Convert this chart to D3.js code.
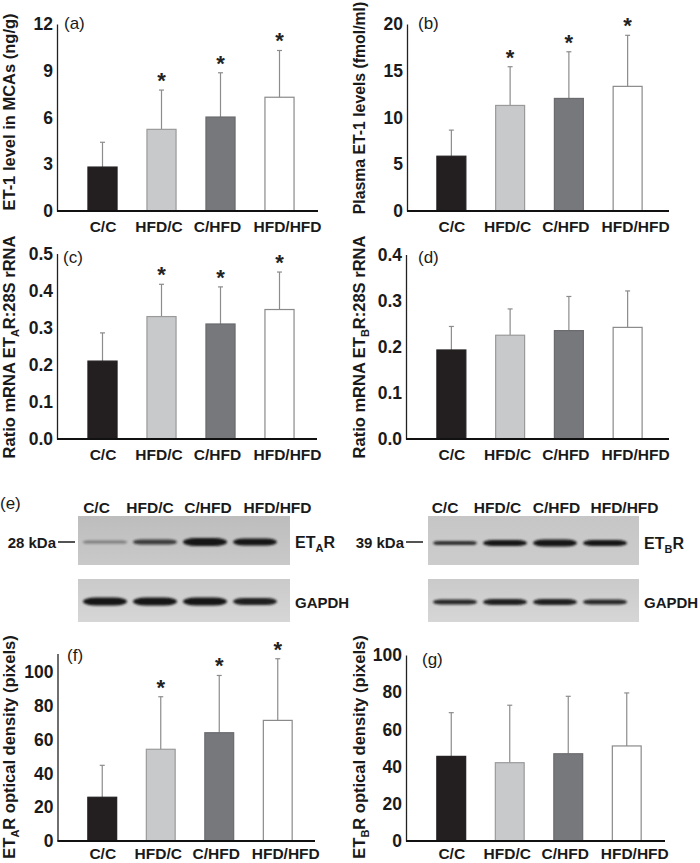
<!DOCTYPE html>
<html><head><meta charset="utf-8">
<script src="https://cdn.jsdelivr.net/npm/d3@7"></script>
<style>
body{margin:0;background:#fff}
svg{display:block}
text{font-family:"Liberation Sans",Arial,Helvetica,sans-serif}
</style>
</head><body>
<svg id="chart" width="700" height="863"></svg>
<script>
// ---------------- DATA ----------------
const categories = ["C/C", "HFD/C", "C/HFD", "HFD/HFD"];

// (a) ET-1 level in MCAs (ng/g)
const et1McaMean = [2.82, 5.24, 6.03, 7.30];
const et1McaSd   = [1.59, 2.52, 2.84, 3.00];
const et1McaSig  = [false, true, true, true];
const ticksA = [0, 3, 6, 9, 12];

// (b) Plasma ET-1 levels (fmol/ml)
const plasmaMean = [5.86, 11.29, 12.04, 13.33];
const plasmaSd   = [2.79, 4.14, 4.99, 5.46];
const plasmaSig  = [false, true, true, true];
const ticksB = [0, 5, 10, 15, 20];

// (c) Ratio mRNA ETAR:28S rRNA
const etarMrnaMean = [0.210, 0.330, 0.310, 0.349];
const etarMrnaSd   = [0.076, 0.087, 0.100, 0.101];
const etarMrnaSig  = [false, true, true, true];
const ticksC = [0, 0.1, 0.2, 0.3, 0.4, 0.5];

// (d) Ratio mRNA ETBR:28S rRNA
const etbrMrnaMean = [0.193, 0.225, 0.235, 0.242];
const etbrMrnaSd   = [0.051, 0.057, 0.074, 0.079];
const etbrMrnaSig  = [false, false, false, false];
const ticksD = [0, 0.1, 0.2, 0.3, 0.4];

// (f) ETAR optical density (pixels)
const etarOdMean = [25.9, 54.3, 64.1, 71.4];
const etarOdSd   = [18.9, 31.1, 33.9, 36.5];
const etarOdSig  = [false, true, true, true];
const ticksF = [0, 20, 40, 60, 80, 100];

// (g) ETBR optical density (pixels)
const etbrOdMean = [45.5, 42.1, 46.9, 51.1];
const etbrOdSd   = [23.5, 30.9, 30.9, 28.5];
const etbrOdSig  = [false, false, false, false];
const ticksG = [0, 20, 40, 60, 80, 100];

// (e) western blot band intensities (relative darkness) and thickness
const etarBandDark   = [0.40, 0.78, 1.00, 1.00];
const etarBandThick  = [3, 5, 8, 7];
const gapdhABandDark = [1.00, 1.00, 1.00, 0.95];
const gapdhABandThick= [8, 8, 8, 7];
const etbrBandDark   = [0.85, 1.00, 1.00, 1.00];
const etbrBandThick  = [4, 6, 7, 6];
const gapdhBBandDark = [0.90, 0.95, 0.95, 0.90];
const gapdhBBandThick= [5, 6, 6, 5];

// ---------------- STYLE ----------------
const barFill   = ["#231f20", "#c8c9cb", "#77787b", "#ffffff"];
const barStroke = ["#231f20", "#9a9a9a", "#6a6b6e", "#8a8a8a"];
const labelShift = [0.5, -2.5, -3, 8];
const FONT = '"Liberation Sans",Arial,Helvetica,sans-serif';

const svg = d3.select("#chart");

const defs = svg.append("defs");
defs.append("filter").attr("id", "blur").attr("x", "-20%").attr("y", "-100%").attr("width", "140%").attr("height", "300%")
  .append("feGaussianBlur").attr("stdDeviation", 1.1);
function grad(id, c0, c1) {
  const g = defs.append("linearGradient").attr("id", id).attr("x1", 0).attr("y1", 0).attr("x2", 0).attr("y2", 1);
  g.append("stop").attr("offset", "0%").attr("stop-color", c0);
  g.append("stop").attr("offset", "100%").attr("stop-color", c1);
}
grad("gEtar", "#bdbdbd", "#c9c9c9");
grad("gGap", "#cacaca", "#d6d6d6");
grad("gEtbr", "#c6c6c6", "#cccccc");

// ---------------- PANELS ----------------
const panels = [
  { letter: "(a)", mean: et1McaMean, sd: et1McaSd, sig: et1McaSig, ticks: ticksA, fmt: d3.format("d"),
    yMax: 12, ax: 57, axEnd: 318, yBot: 211, yTop: 24, band: [73, 309], titleX: 15, titleY: 112, titleSize: 16.5, labDy: 21,
    title: [{ t: "ET-1 level in MCAs (ng/g)" }], letterPos: [64, 29] },
  { letter: "(b)", mean: plasmaMean, sd: plasmaSd, sig: plasmaSig, ticks: ticksB, fmt: d3.format("d"),
    yMax: 20, ax: 407, axEnd: 669, yBot: 211, yTop: 24, band: [422, 657], titleX: 365, titleY: 108, titleSize: 15.8, labDy: 21,
    title: [{ t: "Plasma ET-1 levels (fmol/ml)" }], letterPos: [418, 29] },
  { letter: "(c)", mean: etarMrnaMean, sd: etarMrnaSd, sig: etarMrnaSig, ticks: ticksC, fmt: d3.format(".1f"),
    yMax: 0.5, ax: 57, axEnd: 317, yBot: 439, yTop: 253.5, band: [73, 309], titleX: 15, titleY: 347, titleSize: 16.5, labDy: 21,
    title: [{ t: "Ratio mRNA ET" }, { t: "A", sub: true }, { t: "R:28S rRNA" }], letterPos: [63, 263] },
  { letter: "(d)", mean: etbrMrnaMean, sd: etbrMrnaSd, sig: etbrMrnaSig, ticks: ticksD, fmt: d3.format(".1f"),
    yMax: 0.4, ax: 406, axEnd: 669, yBot: 439, yTop: 254.5, band: [422, 657], titleX: 365, titleY: 347, titleSize: 16.5, labDy: 21,
    title: [{ t: "Ratio mRNA ET" }, { t: "B", sub: true }, { t: "R:28S rRNA" }], letterPos: [418, 263] },
  { letter: "(f)", mean: etarOdMean, sd: etarOdSd, sig: etarOdSig, ticks: ticksF, fmt: d3.format("d"),
    yMax: 111, ax: 57.5, axEnd: 315, yBot: 841, yTop: 653.5, band: [73, 307], titleX: 15, titleY: 747, titleSize: 16.5, labDy: 17.5,
    title: [{ t: "ET" }, { t: "A", sub: true }, { t: "R optical density (pixels)" }], letterPos: [67, 661] },
  { letter: "(g)", mean: etbrOdMean, sd: etbrOdSd, sig: etbrOdSig, ticks: ticksG, fmt: d3.format("d"),
    yMax: 100, ax: 406, axEnd: 665, yBot: 841, yTop: 655, band: [422, 656], titleX: 365, titleY: 747, titleSize: 16.5, labDy: 17.5,
    title: [{ t: "ET" }, { t: "B", sub: true }, { t: "R optical density (pixels)" }], letterPos: [422, 665] }
];

function addRich(textSel, segs) {
  let shifted = false;
  segs.forEach(seg => {
    const ts = textSel.append("tspan").text(seg.t);
    if (seg.sub) { ts.attr("font-size", 11).attr("dy", 4); shifted = true; }
    else if (shifted) { ts.attr("dy", -4); shifted = false; }
  });
}

panels.forEach(p => {
  const g = svg.append("g");
  const x = d3.scaleBand().domain(categories).range(p.band).paddingInner(0.49).paddingOuter(0.245);
  const y = d3.scaleLinear().domain([0, p.yMax]).range([p.yBot, p.yTop]);

  // y axis
  const yAxis = d3.axisLeft(y).tickValues(p.ticks).tickFormat(p.fmt).tickSize(0).tickPadding(4);
  const ya = g.append("g").attr("transform", `translate(${p.ax},0)`).call(yAxis);
  ya.select(".domain").attr("stroke", "#222").attr("stroke-width", 1.3);
  ya.selectAll("text").attr("font-family", FONT).attr("font-size", 17.5).attr("font-weight", "bold").attr("fill", "#1a1a1a");

  const data = categories.map((c, i) => ({ c, i, m: p.mean[i], s: p.sd[i], sig: p.sig[i] }));
  const cx = d => x(d.c) + x.bandwidth() / 2;

  // error bars (upper only)
  g.selectAll(".err").data(data).enter().append("line")
    .attr("x1", cx).attr("x2", cx)
    .attr("y1", d => y(d.m)).attr("y2", d => y(d.m + d.s))
    .attr("stroke", "#8c8c8c").attr("stroke-width", 1.2);
  g.selectAll(".cap").data(data).enter().append("line")
    .attr("x1", d => cx(d) - 2.5).attr("x2", d => cx(d) + 2.5)
    .attr("y1", d => y(d.m + d.s)).attr("y2", d => y(d.m + d.s))
    .attr("stroke", "#8c8c8c").attr("stroke-width", 1.2);

  // bars
  g.selectAll(".bar").data(data).enter().append("rect")
    .attr("x", d => x(d.c) + 0.5).attr("width", x.bandwidth() - 1)
    .attr("y", d => y(d.m)).attr("height", d => y(0) - y(d.m))
    .attr("fill", d => barFill[d.i]).attr("stroke", d => barStroke[d.i]).attr("stroke-width", 1.2);

  // significance stars
  g.selectAll(".star").data(data.filter(d => d.sig)).enter().append("text")
    .attr("x", cx).attr("y", d => y(d.m + d.s) - 2)
    .attr("text-anchor", "middle").attr("font-size", 22).attr("font-weight", "bold").attr("fill", "#222")
    .text("*");

  // x axis line
  g.append("line").attr("x1", p.ax).attr("x2", p.axEnd).attr("y1", p.yBot).attr("y2", p.yBot)
    .attr("stroke", "#111").attr("stroke-width", 2);
  // x labels
  g.selectAll(".xl").data(categories).enter().append("text")
    .attr("x", (d, i) => x(d) + x.bandwidth() / 2 + labelShift[i]).attr("y", p.yBot + p.labDy)
    .attr("text-anchor", "middle").attr("font-size", 15.5).attr("font-weight", "bold").attr("fill", "#1a1a1a")
    .text(d => d);

  // y title
  const tt = g.append("text").attr("transform", `translate(${p.titleX},${p.titleY}) rotate(-90)`)
    .attr("text-anchor", "middle").attr("font-size", p.titleSize).attr("font-weight", "bold").attr("fill", "#1a1a1a");
  addRich(tt, p.title);

  // panel letter
  g.append("text").attr("x", p.letterPos[0]).attr("y", p.letterPos[1])
    .attr("font-size", 17).attr("fill", "#1a1a1a").text(p.letter);
});

// ---------------- WESTERN BLOTS (e) ----------------
svg.append("text").attr("x", 0).attr("y", 509).attr("font-size", 17).attr("fill", "#1a1a1a").text("(e)");

const blots = [
  { bx: [78, 290], lanes: [80, 280], labelX: [96.5, 150, 208, 277.5],
    marker: "28 kDa", markerEnd: 56, dash: [58, 75],
    rows: [
      { y: 516, h: 49, fill: "url(#gEtar)", bandY: 542, dark: etarBandDark, thick: etarBandThick, name: [{ t: "ET" }, { t: "A", sub: true }, { t: "R" }] },
      { y: 579, h: 43, fill: "url(#gGap)", bandY: 601.5, dark: gapdhABandDark, thick: gapdhABandThick, name: [{ t: "GAPDH" }] }
    ] },
  { bx: [428, 639], lanes: [430, 630], labelX: [445, 497.5, 556.5, 624.5],
    marker: "39 kDa", markerEnd: 404, dash: [406, 423],
    rows: [
      { y: 516, h: 49, fill: "url(#gEtbr)", bandY: 543, dark: etbrBandDark, thick: etbrBandThick, name: [{ t: "ET" }, { t: "B", sub: true }, { t: "R" }] },
      { y: 579, h: 43, fill: "url(#gGap)", bandY: 602, dark: gapdhBBandDark, thick: gapdhBBandThick, name: [{ t: "GAPDH" }] }
    ] }
];

blots.forEach(b => {
  const g = svg.append("g");
  const lx = d3.scaleBand().domain(categories).range(b.lanes).paddingInner(0.12).paddingOuter(0.06);
  // lane labels
  g.selectAll(".ll").data(categories).enter().append("text")
    .attr("x", (d, i) => b.labelX[i]).attr("y", 513)
    .attr("text-anchor", "middle").attr("font-size", 15.5).attr("font-weight", "bold").attr("fill", "#1a1a1a")
    .text(d => d);
  b.rows.forEach((r, ri) => {
    g.append("rect").attr("x", b.bx[0]).attr("y", r.y).attr("width", b.bx[1] - b.bx[0]).attr("height", r.h)
      .attr("fill", r.fill);
    g.selectAll(".band" + ri).data(categories).enter().append("rect")
      .attr("x", d => lx(d)).attr("width", lx.bandwidth())
      .attr("y", (d, i) => r.bandY - r.thick[i] / 2).attr("height", (d, i) => r.thick[i])
      .attr("rx", (d, i) => r.thick[i] * 1.6).attr("ry", (d, i) => r.thick[i] / 2)
      .attr("fill", "#141414").attr("opacity", (d, i) => r.dark[i])
      .attr("filter", "url(#blur)");
    const nt = g.append("text").attr("x", b.bx[1] + 5).attr("y", r.bandY + 6)
      .attr("font-size", ri === 0 ? 16 : 15).attr("font-weight", "bold").attr("fill", "#1a1a1a");
    addRich(nt, r.name);
  });
  // molecular weight marker
  g.append("text").attr("x", b.markerEnd).attr("y", 548).attr("text-anchor", "end")
    .attr("font-size", 15).attr("font-weight", "bold").attr("fill", "#1a1a1a").text(b.marker);
  g.append("line").attr("x1", b.dash[0]).attr("x2", b.dash[1]).attr("y1", 542).attr("y2", 542)
    .attr("stroke", "#1a1a1a").attr("stroke-width", 1.5);
});
</script>
</body></html>
